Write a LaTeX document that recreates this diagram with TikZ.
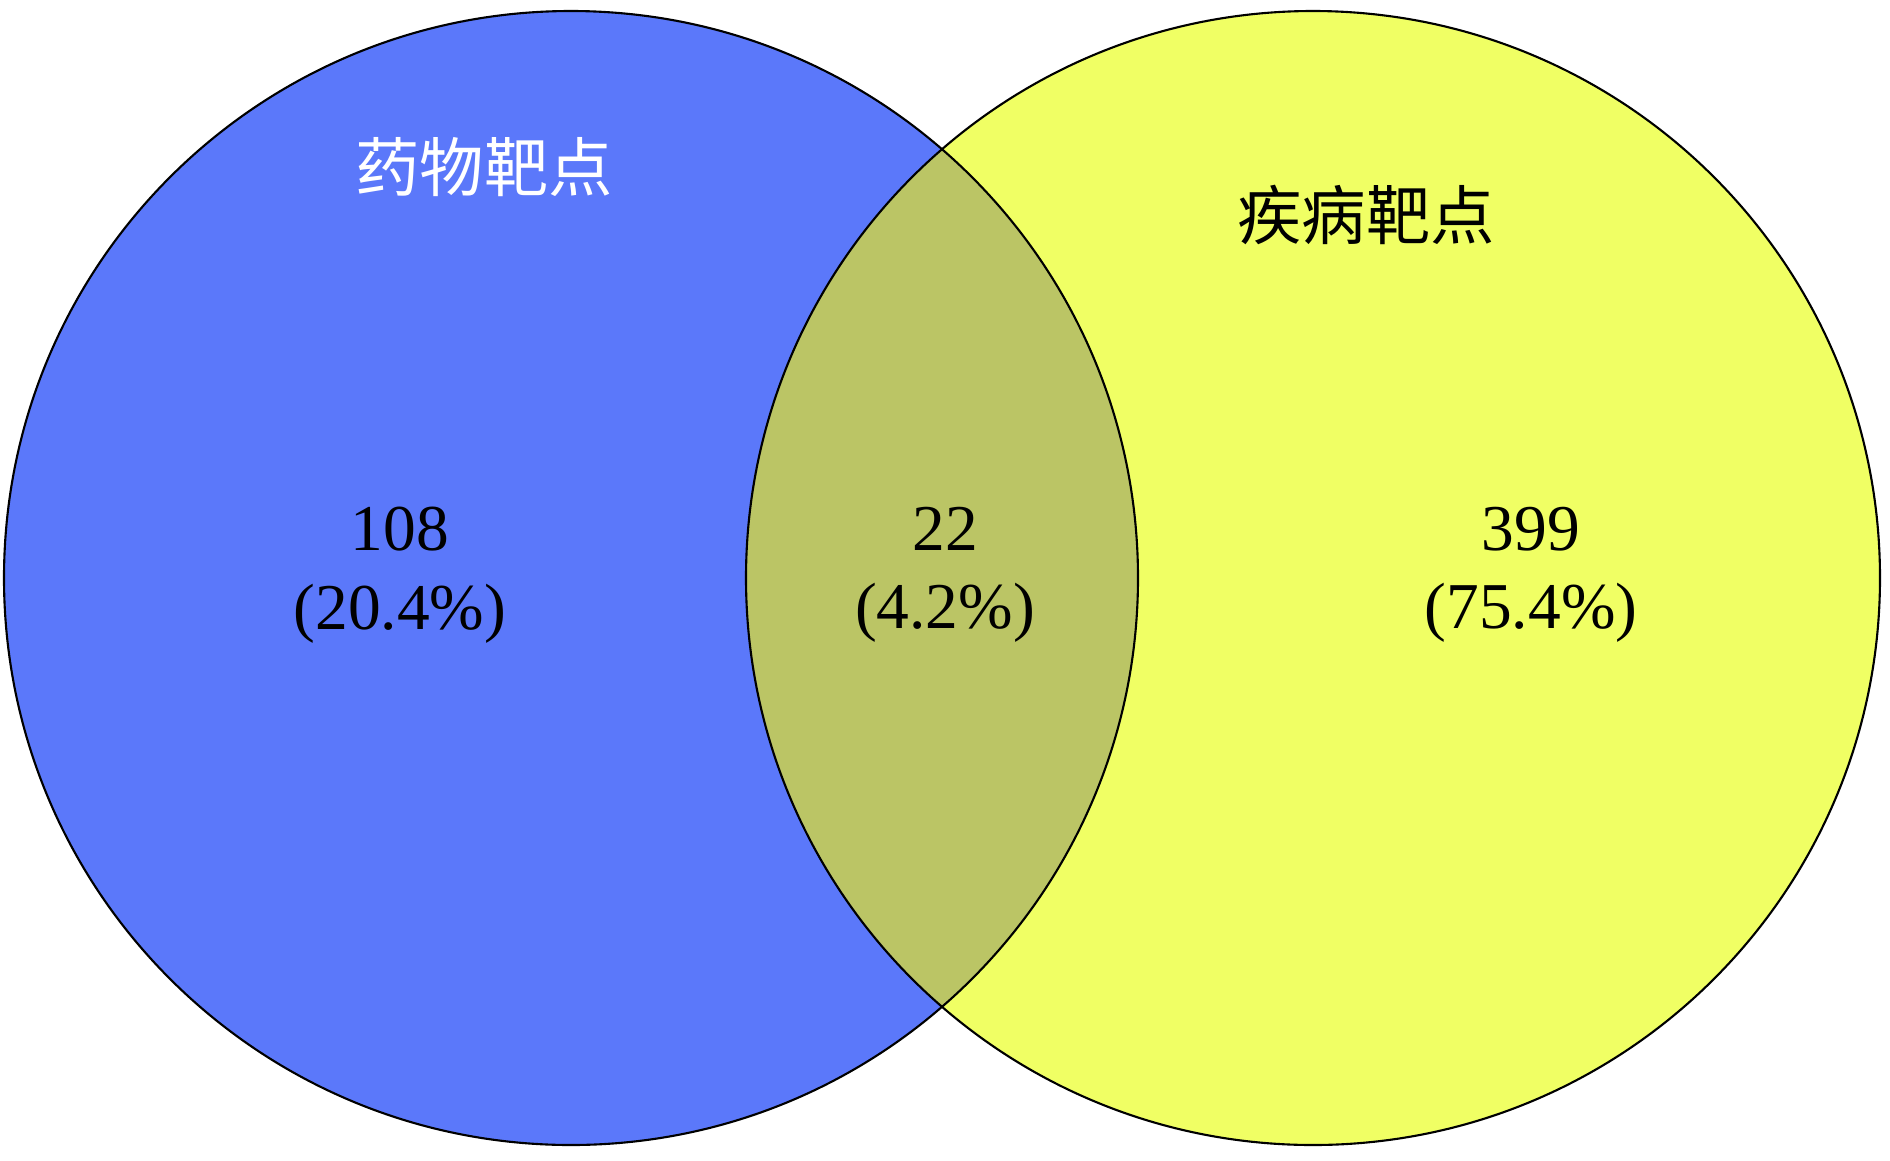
\documentclass[tikz,border=0pt]{standalone}
\usepackage{fontspec}
\setmainfont{Liberation Serif}
\newfontfamily\cjk{Noto Sans CJK SC}
\definecolor{drugblue}{RGB}{91,120,250}
\definecolor{diseaseyellow}{RGB}{240,255,100}
\definecolor{overlapolive}{RGB}{187,197,101}
\tikzset{
  setname/.style = {font = \cjk\fontsize{18.3}{22}\selectfont, inner sep = 0pt},
  count/.style   = {align = center, text = black, inner sep = 0pt,
                    font = \fontsize{18.6}{22.3}\selectfont},
  rim/.style     = {draw = black, line width = 0.6pt}
}

\begin{document}
\begin{tikzpicture}[x=0.01cm, y=-0.01cm]
  \useasboundingbox (0,0) rectangle (1890,1160);

  % Set centres
  \coordinate (drug) at (571,578);
  \coordinate (disease) at (1313,578);

  % Filled circles and their overlap
  \fill[drugblue] (drug) circle (567);
  \fill[diseaseyellow] (disease) circle (567);
  \begin{scope}
    \clip (drug) circle (567);
    \fill[overlapolive] (disease) circle (567);
  \end{scope}
  \draw[rim] (drug) circle (567);
  \draw[rim] (disease) circle (567);

  % Set names
  \node[setname, text = white] (drugname) at (484,167) {药物靶点};
  \node[setname, text = black] (diseasename) at (1366,215) {疾病靶点};

  % Counts
  \node[count] (drugonly) at (400,575) {108\\(20.4\%)};
  \node[count] (shared) at (945,575) {22\\(4.2\%)};
  \node[count] (diseaseonly) at (1531,575) {399\\(75.4\%)};
\end{tikzpicture}
\end{document}
